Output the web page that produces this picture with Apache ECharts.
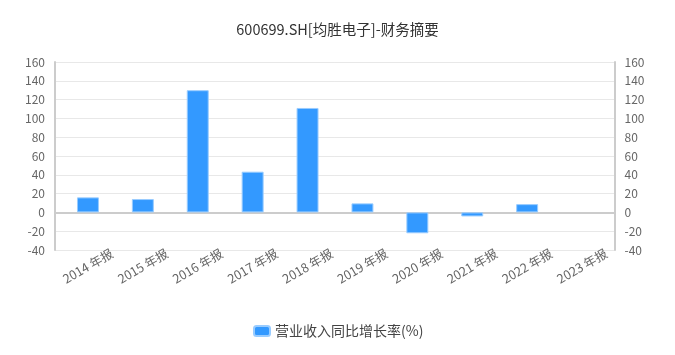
<!DOCTYPE html>
<html><head><meta charset="utf-8">
<script src="https://cdn.jsdelivr.net/npm/echarts@6/dist/echarts.min.js"></script>
<style>html,body{margin:0;padding:0;background:#fff}#c{width:675px;height:355px}</style>
</head><body><div id="c"></div>
<script>
const categories = ['2014 年报','2015 年报','2016 年报','2017 年报','2018 年报','2019 年报','2020 年报','2021 年报','2022 年报','2023 年报'];
const growth = [16.0, 14.2, 130.0, 43.3, 111.1, 9.6, -22.2, -4.3, 8.8, null];
const seriesName = '营业收入同比增长率(%)';
const titleText = '600699.SH[均胜电子]-财务摘要';

const chart = echarts.init(document.getElementById('c'));
const font = '"Microsoft YaHei","Noto Sans CJK SC",sans-serif';
const yAxisCommon = {
  type: 'value', min: -40, max: 160, interval: 20, gridIndex: 0,
  axisLine: {show: true, lineStyle: {color: '#ccc', width: 2}},
  axisTick: {show: false},
  axisLabel: {color: '#666', fontSize: 12, fontFamily: font, margin: 10},
  splitLine: {lineStyle: {color: '#e8e8e8'}}
};
chart.setOption({
  animation: false,
  title: {text: titleText, left: 'center', top: 17, textStyle: {fontSize: 14.5, fontWeight: 'normal', color: '#333', fontFamily: font}},
  legend: {bottom: 12, left: 248, itemWidth: 16, itemHeight: 10, itemGap: 6, textStyle: {color: '#444', fontSize: 14, fontFamily: font}, data: [seriesName]},
  grid: [
    {left: 55, right: 60.5, top: 62, bottom: 105},
    {left: 60.5, right: 65.5, top: 62, bottom: 105}
  ],
  xAxis: [
    {type: 'category', gridIndex: 0, data: categories,
     axisLine: {lineStyle: {color: '#ccc', width: 2}},
     axisTick: {show: false}, axisLabel: {show: false}},
    {type: 'category', gridIndex: 1, data: categories,
     axisLine: {show: false},
     axisTick: {show: false},
     axisLabel: {rotate: 30, align: 'center', verticalAlign: 'middle', color: '#666', fontSize: 12.5, fontFamily: font, margin: 16}}
  ],
  yAxis: [
    Object.assign({position: 'left'}, yAxisCommon),
    Object.assign({position: 'right'}, yAxisCommon),
    {type: 'value', gridIndex: 1, min: -40, max: 160, interval: 20, show: false}
  ],
  series: [{
    name: seriesName, type: 'bar', data: growth, barWidth: '40%',
    xAxisIndex: 1, yAxisIndex: 2,
    itemStyle: {color: '#3399ff', borderColor: '#99ccff', borderWidth: 1}
  }]
});
</script></body></html>
